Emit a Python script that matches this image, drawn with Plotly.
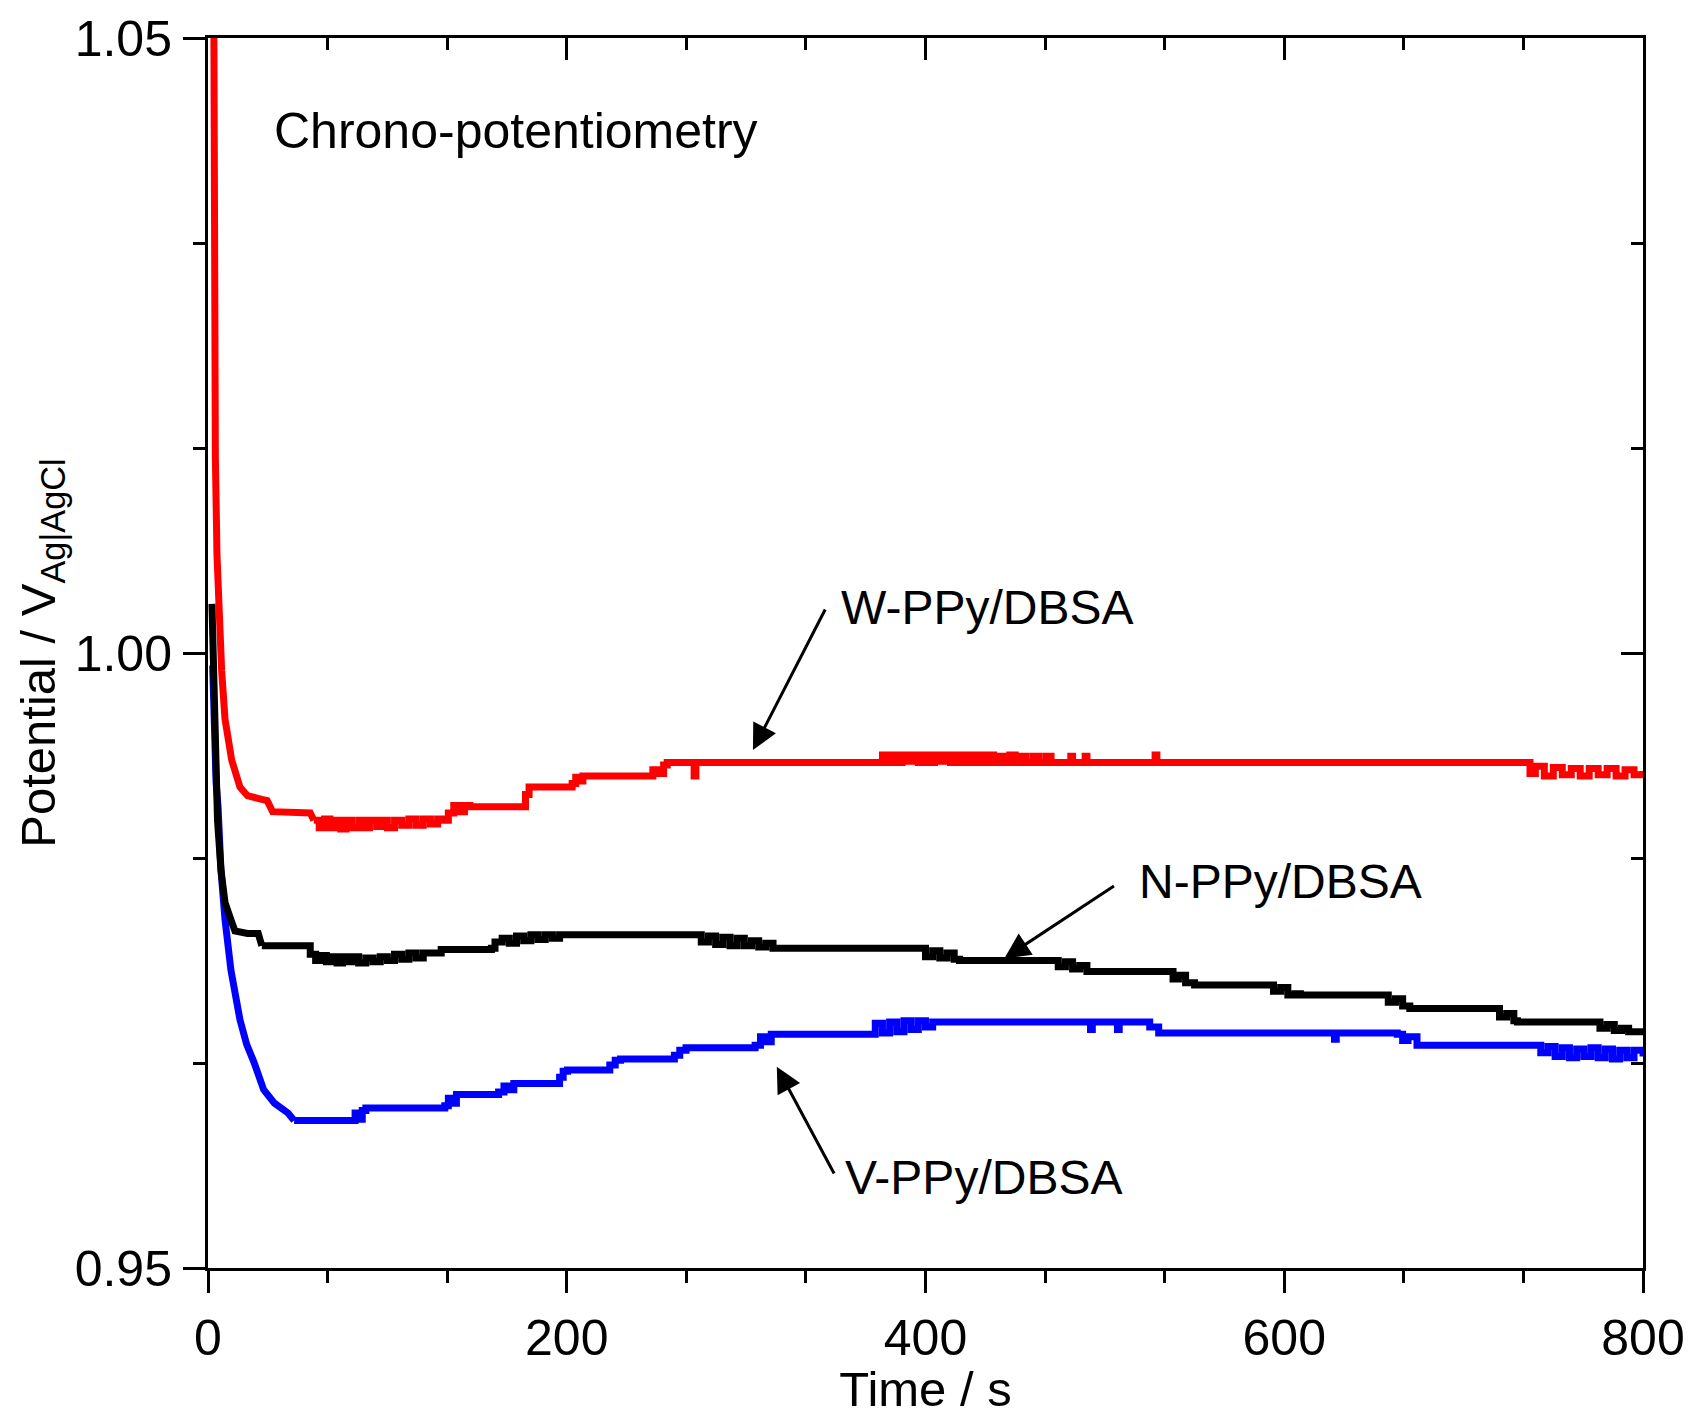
import plotly.graph_objects as go

# ---------------- data ----------------
w_t = [2.6, 3.0, 3.5, 4.1, 5.0, 6.2, 7.6, 9.5, 13.2, 17.8, 22, 30, 33, 36, 57, 59,
       62, 65, 68, 71, 74, 77, 80, 84, 87, 90, 94, 97, 100, 104, 108, 112, 116, 120, 124, 128, 131,
       134, 137, 140, 143, 146, 175, 177, 179, 200, 203, 205, 207, 209, 245, 248, 251, 254, 256,
       270, 271, 272, 374,
       376, 378, 381, 384, 387, 390, 393, 396, 399, 402, 405, 408, 411, 414, 417, 420, 423, 426,
       429, 432, 435, 438, 441, 444, 447, 450, 453, 456, 460, 463, 467, 470,
       480, 481, 482, 488, 489, 490, 527, 528, 529, 735,
       737, 740, 745, 750, 755, 760, 765, 770, 775, 780, 785, 790, 795, 800]
w_v = [1.080, 1.050, 1.030, 1.016, 1.008, 1.0027, 0.9986, 0.9946, 0.9913, 0.9891, 0.9884, 0.9881, 0.9880, 0.9871, 0.9870, 0.9864,
       0.9858, 0.9865, 0.9858, 0.9864, 0.9857, 0.9864, 0.9858, 0.9864, 0.9858, 0.9864, 0.9859, 0.9864, 0.9858, 0.9864, 0.9860, 0.9865, 0.9860, 0.9865, 0.9861, 0.9865, 0.9864,
       0.9870, 0.9876, 0.9871, 0.9876, 0.9875, 0.9875, 0.9885, 0.9891, 0.9891, 0.9894, 0.9899, 0.9896, 0.9900, 0.9900, 0.9905, 0.9902, 0.9909, 0.9911,
       0.9911, 0.9900, 0.9911, 0.9911,
       0.9917, 0.9911, 0.9917, 0.9911, 0.9917, 0.9912, 0.9917, 0.9911, 0.9917, 0.9911, 0.9917, 0.9912, 0.9917, 0.9911, 0.9917, 0.9911, 0.9917, 0.9911,
       0.9917, 0.9911, 0.9917, 0.9911, 0.9916, 0.9911, 0.9917, 0.9911, 0.9916, 0.9911, 0.9916, 0.9911, 0.9916, 0.9911,
       0.9911, 0.9916, 0.9911, 0.9911, 0.9916, 0.9911, 0.9911, 0.9917, 0.9911, 0.9911,
       0.9902, 0.9908, 0.9900, 0.9907, 0.9901, 0.9906, 0.9900, 0.9906, 0.9901, 0.9906, 0.9900, 0.9905, 0.9901, 0.9904]

v_t = [2.6, 3.5, 4.5, 5.6, 7.2, 9.5, 12.8, 17.8, 21.5, 25.7, 31, 37, 44.6, 48, 81,
       82, 84, 86, 88, 132, 134, 136, 138.5, 162, 165, 168, 170.5, 196, 198, 200.4, 224, 227, 230,
       260, 263, 266.5, 305, 308, 311, 314, 368,
       372, 376, 380, 384, 388, 392, 396, 400, 404, 491, 492, 493, 506, 507, 508,
       520, 525, 530, 627, 628, 629, 663, 666, 669, 674, 739,
       743, 747, 751, 755, 759, 763, 767, 771, 775, 779, 783, 787, 791, 795, 800]
v_v = [0.999, 0.993, 0.9895, 0.9875, 0.9824, 0.9783, 0.9742, 0.9702, 0.9682, 0.9667, 0.9645, 0.9634, 0.9626, 0.9620, 0.9620,
       0.9626, 0.9621, 0.9628, 0.9630, 0.9632, 0.9638, 0.9634, 0.9641, 0.9643, 0.9648, 0.9645, 0.9650, 0.9655, 0.9660, 0.9661, 0.9665, 0.9669, 0.9670,
       0.9673, 0.9677, 0.9679, 0.9681, 0.9688, 0.9684, 0.9690, 0.9690,
       0.9699, 0.9691, 0.9700, 0.9692, 0.9701, 0.9694, 0.9701, 0.9696, 0.9700, 0.9700, 0.9694, 0.9700, 0.9700, 0.9694, 0.9700,
       0.9700, 0.9696, 0.9691, 0.9691, 0.9686, 0.9691, 0.9690, 0.9685, 0.9688, 0.9681, 0.9681,
       0.9675, 0.9680, 0.9672, 0.9679, 0.9671, 0.9678, 0.9672, 0.9679, 0.9671, 0.9678, 0.9670, 0.9677, 0.9671, 0.9677, 0.9672]

n_t = [2.2, 3.0, 3.9, 5.3, 7.2, 9.5, 12.8, 15, 22, 28, 30, 55,
       57, 60, 63, 66, 69, 72, 75, 78, 81, 84, 88, 92, 96, 100, 104, 108, 112, 116, 120, 125, 130, 158,
       160, 164, 168, 172, 176, 180, 184, 188, 192, 196, 200, 271,
       275, 279, 283, 287, 291, 295, 299, 303, 307, 311, 315, 396,
       400, 404, 408, 412, 416, 419, 470, 474, 478, 482, 486, 490, 494, 535, 538, 541, 545, 550,
       590, 594, 598, 602, 606, 609, 655, 658, 662, 666, 670, 716, 720, 724, 728, 730,
       772, 776, 780, 784, 788, 792, 796, 800]
n_v = [1.004, 0.998, 0.9919, 0.9864, 0.9824, 0.9797, 0.9783, 0.9774, 0.9772, 0.9772, 0.9762, 0.9762,
       0.9755, 0.9750, 0.9754, 0.9749, 0.9753, 0.9748, 0.9753, 0.9749, 0.9753, 0.9748, 0.9752, 0.9749, 0.9753, 0.9750, 0.9755, 0.9751, 0.9756, 0.9752, 0.9756, 0.9756, 0.9759, 0.9760,
       0.9765, 0.9768, 0.9764, 0.9770, 0.9766, 0.9771, 0.9767, 0.9771, 0.9768, 0.9771, 0.9771, 0.9771,
       0.9765, 0.9770, 0.9763, 0.9769, 0.9762, 0.9768, 0.9762, 0.9766, 0.9761, 0.9764, 0.9760, 0.9760,
       0.9753, 0.9758, 0.9752, 0.9756, 0.9751, 0.9750, 0.9750, 0.9745, 0.9749, 0.9743, 0.9746, 0.9741, 0.9741, 0.9741, 0.9735, 0.9738, 0.9732, 0.9730,
       0.9730, 0.9725, 0.9728, 0.9722, 0.9723, 0.9722, 0.9722, 0.9716, 0.9719, 0.9713, 0.9711, 0.9711, 0.9704, 0.9707, 0.9701, 0.9700,
       0.9700, 0.9695, 0.9698, 0.9693, 0.9695, 0.9692, 0.9692, 0.9692]

# time where the fast initial decay ends (drawn linear before, stepped after)
w_split, v_split, n_split = 59, 48, 30

x_ticks = [0, 200, 400, 600, 800]
y_ticks = [0.95, 1.00, 1.05]
y_tick_text = ["0.95", "1.00", "1.05"]

FONT = "Liberation Sans, Arial, Helvetica, sans-serif"
LW = 7

fig = go.Figure()


def add_series(t, v, split, color):
    i = t.index(split)
    fig.add_trace(go.Scatter(x=t[:i + 1], y=v[:i + 1], mode="lines",
                             line=dict(color=color, width=LW, shape="linear"),
                             showlegend=False, hoverinfo="skip"))
    fig.add_trace(go.Scatter(x=t[i:], y=v[i:], mode="lines",
                             line=dict(color=color, width=LW, shape="hv"),
                             showlegend=False, hoverinfo="skip"))


add_series(w_t, w_v, w_split, "#FF0000")
add_series(v_t, v_v, v_split, "#0000FF")
add_series(n_t, n_v, n_split, "#000000")

# dummy trace so the mirrored (top/right) axes are drawn
fig.add_trace(go.Scatter(x=[None], y=[None], xaxis="x2", yaxis="y2", showlegend=False, hoverinfo="skip"))

axis_common = dict(showline=True, linecolor="black", linewidth=3, showgrid=False, zeroline=False,
                   tickcolor="black", tickwidth=3, automargin=False)

fig.update_layout(
    width=1690, height=1416,
    margin=dict(l=208, r=47, t=38, b=148),
    paper_bgcolor="white", plot_bgcolor="white",
    font=dict(family=FONT, color="black", size=50),
    xaxis=dict(range=[0, 800], tickvals=x_ticks, ticks="outside", ticklen=22,
               tickfont=dict(size=50), ticklabelstandoff=2,
               minor=dict(ticks="outside", ticklen=12, tickwidth=3, tickcolor="black",
                          tick0=0, dtick=200 / 3),
               title=dict(text="Time / s", font=dict(size=49), standoff=16),
               **axis_common),
    yaxis=dict(range=[0.95, 1.05], tickvals=y_ticks, ticktext=y_tick_text, ticks="outside", ticklen=22,
               tickfont=dict(size=50), ticklabelstandoff=1,
               minor=dict(ticks="outside", ticklen=12, tickwidth=3, tickcolor="black",
                          tick0=0.95, dtick=0.1 / 6),
               title=dict(text="Potential / V<sub>Ag|AgCl</sub>", font=dict(size=49), standoff=4),
               **axis_common),
    xaxis2=dict(range=[0, 800], overlaying="x", side="top", tickvals=x_ticks, ticks="inside", ticklen=22,
                showticklabels=False,
                minor=dict(ticks="inside", ticklen=12, tickwidth=3, tickcolor="black",
                           tick0=0, dtick=200 / 3),
                **axis_common),
    yaxis2=dict(range=[0.95, 1.05], overlaying="y", side="right", tickvals=y_ticks, ticks="inside", ticklen=22,
                showticklabels=False,
                minor=dict(ticks="inside", ticklen=12, tickwidth=3, tickcolor="black",
                           tick0=0.95, dtick=0.1 / 6),
                **axis_common),
)

texts = [
    ("Chrono-potentiometry", 35.5, 1.0424, 50),
    ("W-PPy/DBSA", 351.5, 1.00374, 48),
    ("N-PPy/DBSA", 517.9, 0.98141, 48),
    ("V-PPy/DBSA", 354.0, 0.95732, 48),
]
for txt, tx, ty, fs in texts:
    fig.add_annotation(x=tx, y=ty, xref="x", yref="y", text=txt, showarrow=False,
                       xanchor="left", yanchor="middle",
                       font=dict(family=FONT, size=fs, color="black"))

arrows = [  # head (x, y), tail (ax, ay)
    (303.8, 0.99211, 344.5, 1.00366),
    (444.0, 0.97518, 505.9, 0.98114),
    (317.1, 0.96637, 349.5, 0.95756),
]
for hx, hy, tx, ty in arrows:
    fig.add_annotation(x=hx, y=hy, ax=tx, ay=ty, xref="x", yref="y", axref="x", ayref="y",
                       text="", showarrow=True, arrowhead=2, arrowsize=1.7, arrowwidth=3,
                       arrowcolor="black")

fig.write_html("out.html")
